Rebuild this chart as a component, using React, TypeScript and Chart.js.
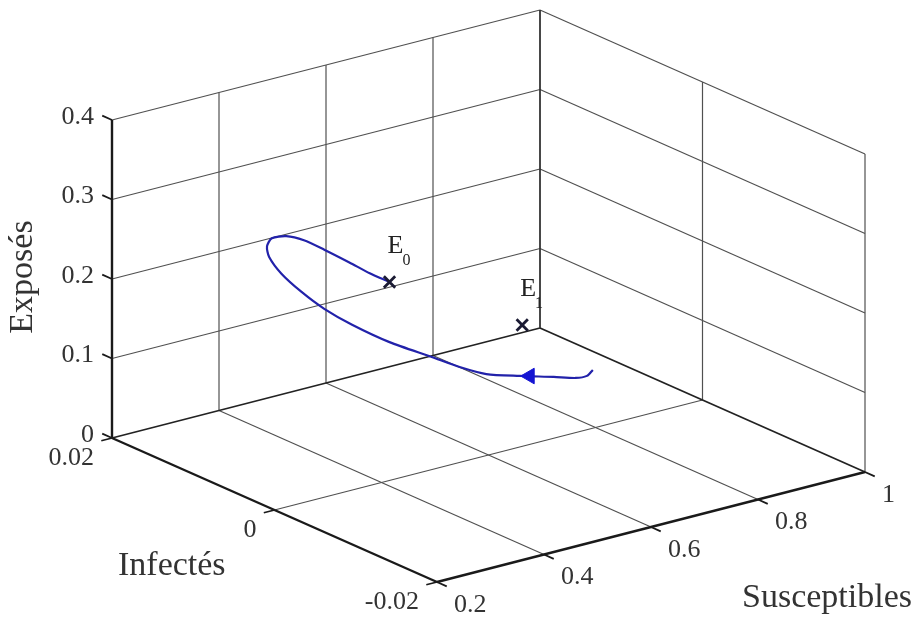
import React, { useEffect, useRef } from "react";
import { Chart, registerables } from "chart.js";

Chart.register(...registerables);

// ---- axis ticks (data space) ----
const S_TICKS = [0.2, 0.4, 0.6, 0.8, 1];
const I_TICKS = [-0.02, 0, 0.02];
const E_TICKS = [0, 0.1, 0.2, 0.3, 0.4];
const S_TICK_LABELS = ["0.2", "0.4", "0.6", "0.8", "1"];
const I_TICK_LABELS = ["-0.02", "0", "0.02"];
const E_TICK_LABELS = ["0", "0.1", "0.2", "0.3", "0.4"];

// ---- trajectory (Susceptibles, Infectés, Exposés) ----
const trajS = [0.795, 0.784, 0.763, 0.722, 0.658, 0.596, 0.546, 0.494, 0.415, 0.345, 0.293, 0.25, 0.213, 0.19, 0.186, 0.195, 0.222, 0.255, 0.293, 0.34, 0.378, 0.415];
const trajI = [0, 0, 0, 0, 0, 0, 0, 0, 0, 0, 0, 0, 0, 0, 0, 0, 0, 0, 0, 0, 0, 0];
const trajE = [0.0733, 0.0677, 0.0687, 0.0771, 0.0894, 0.1025, 0.12, 0.1416, 0.174, 0.208, 0.237, 0.266, 0.295, 0.32, 0.334, 0.3426, 0.3406, 0.3298, 0.3114, 0.2872, 0.267, 0.2496];

// arrow on the trajectory
const arrowS = [0.677];
const arrowI = [0];
const arrowE = [0.086];

// equilibrium points
const eqNames = ["E0", "E1"];
const eqS = [0.415, 0.663];
const eqI = [0, 0];
const eqE = [0.2496, 0.1526];

// ---- layout of the projected box (screen units of the hidden scales) ----
const ORIGIN = { x: 437, y: 582 }; // S min, I min, E min corner
const VS = { x: 428, y: -110 };
const VI = { x: -325, y: -144 };
const VE = { x: 0, y: -318 };

const S_MIN = S_TICKS[0], S_MAX = S_TICKS[S_TICKS.length - 1];
const I_MIN = I_TICKS[0], I_MAX = I_TICKS[I_TICKS.length - 1];
const E_MIN = E_TICKS[0], E_MAX = E_TICKS[E_TICKS.length - 1];

function proj(S: number, I: number, E: number) {
  const s = (S - S_MIN) / (S_MAX - S_MIN);
  const i = (I - I_MIN) / (I_MAX - I_MIN);
  const e = (E - E_MIN) / (E_MAX - E_MIN);
  return {
    x: ORIGIN.x + s * VS.x + i * VI.x + e * VE.x,
    y: ORIGIN.y + s * VS.y + i * VI.y + e * VE.y,
  };
}

type P3 = [number, number, number];

function seg(a: P3, b: P3, color: string, width: number, order: number) {
  return {
    data: [proj(a[0], a[1], a[2]), proj(b[0], b[1], b[2])],
    showLine: true,
    borderColor: color,
    backgroundColor: color,
    borderWidth: width,
    pointRadius: 0,
    tension: 0,
    clip: false as any,
    order,
  };
}

const GRID = "#505050";
const AXIS = "#1a1a1a";
const TXT = "#333333";
const TICK_FONT = "26px 'Liberation Serif', serif";
const TITLE_FONT = "34px 'Liberation Serif', serif";

export default function App() {
  const ref = useRef<HTMLCanvasElement>(null);

  useEffect(() => {
    document.body.style.margin = "0";
    const canvas = ref.current!;
    const datasets: any[] = [];

    // floor grid
    for (const s of S_TICKS.slice(1, -1)) datasets.push(seg([s, I_MIN, E_MIN], [s, I_MAX, E_MIN], GRID, 1.2, 10));
    for (const i of I_TICKS.slice(1, -1)) datasets.push(seg([S_MIN, i, E_MIN], [S_MAX, i, E_MIN], GRID, 1.2, 10));
    // back wall (I = max)
    for (const s of S_TICKS.slice(1, -1)) datasets.push(seg([s, I_MAX, E_MIN], [s, I_MAX, E_MAX], GRID, 1.2, 10));
    for (const e of E_TICKS.slice(1)) datasets.push(seg([S_MIN, I_MAX, e], [S_MAX, I_MAX, e], GRID, 1.2, 10));
    // right wall (S = max)
    for (const i of I_TICKS.slice(0, -1)) datasets.push(seg([S_MAX, i, E_MIN], [S_MAX, i, E_MAX], GRID, 1.2, 10));
    for (const e of E_TICKS.slice(1)) datasets.push(seg([S_MAX, I_MAX, e], [S_MAX, I_MIN, e], GRID, 1.2, 10));
    // box edges
    datasets.push(seg([S_MAX, I_MAX, E_MIN], [S_MAX, I_MAX, E_MAX], "#333", 1.8, 8));
    datasets.push(seg([S_MIN, I_MAX, E_MIN], [S_MAX, I_MAX, E_MIN], "#222", 1.8, 8));
    datasets.push(seg([S_MAX, I_MAX, E_MIN], [S_MAX, I_MIN, E_MIN], "#222", 1.8, 8));
    // main axes
    datasets.push(seg([S_MIN, I_MAX, E_MIN], [S_MIN, I_MAX, E_MAX], AXIS, 2.4, 6));
    datasets.push(seg([S_MIN, I_MIN, E_MIN], [S_MIN, I_MAX, E_MIN], AXIS, 2.4, 6));
    datasets.push(seg([S_MIN, I_MIN, E_MIN], [S_MAX, I_MIN, E_MIN], AXIS, 2.4, 6));
    // tick marks
    for (const e of E_TICKS) datasets.push(seg([S_MIN, I_MAX, e], [S_MIN, I_MAX + 0.0012, e], AXIS, 1.8, 6));
    for (const i of I_TICKS) datasets.push(seg([S_MIN, i, E_MIN], [S_MIN - 0.02, i, E_MIN], AXIS, 1.8, 6));
    for (const s of S_TICKS) datasets.push(seg([s, I_MIN, E_MIN], [s, I_MIN - 0.0012, E_MIN], AXIS, 1.8, 6));

    // trajectory
    datasets.push({
      data: trajS.map((s, k) => proj(s, trajI[k], trajE[k])),
      showLine: true,
      borderColor: "rgb(34,34,170)",
      borderWidth: 2.2,
      pointRadius: 0,
      tension: 0.25,
      clip: false,
      order: 2,
    });
    // arrow head
    datasets.push({
      data: arrowS.map((s, k) => proj(s, arrowI[k], arrowE[k])),
      showLine: false,
      pointStyle: "triangle",
      rotation: -90,
      pointRadius: 9,
      backgroundColor: "rgb(20,20,210)",
      borderColor: "rgb(20,20,210)",
      borderWidth: 1,
      clip: false,
      order: 1,
    });
    // equilibria
    datasets.push({
      data: eqS.map((s, k) => proj(s, eqI[k], eqE[k])),
      showLine: false,
      pointStyle: "crossRot",
      pointRadius: 8,
      borderColor: "#1a1a33",
      borderWidth: 2.8,
      clip: false,
      order: 0,
    });

    const textPlugin = {
      id: "texts",
      afterDatasetsDraw(chart: any) {
        const ctx = chart.ctx as CanvasRenderingContext2D;
        const xs = chart.scales.x, ys = chart.scales.y;
        const px = (p: { x: number; y: number }) => ({ x: xs.getPixelForValue(p.x), y: ys.getPixelForValue(p.y) });
        ctx.save();
        ctx.fillStyle = TXT;
        ctx.font = TICK_FONT;
        ctx.textBaseline = "middle";
        ctx.textAlign = "right";
        E_TICKS.forEach((e, k) => {
          const p = px(proj(S_MIN, I_MAX, e));
          ctx.fillText(E_TICK_LABELS[k], p.x - 18, p.y - 3);
        });
        I_TICKS.forEach((i, k) => {
          const p = px(proj(S_MIN, i, E_MIN));
          ctx.fillText(I_TICK_LABELS[k], p.x - 18, p.y + 20);
        });
        ctx.textAlign = "left";
        S_TICKS.forEach((s, k) => {
          const p = px(proj(s, I_MIN, E_MIN));
          ctx.fillText(S_TICK_LABELS[k], p.x + 17, p.y + 23);
        });

        // equilibrium labels
        ctx.fillStyle = "#222";
        ctx.textBaseline = "alphabetic";
        eqNames.forEach((n, k) => {
          const p = px(proj(eqS[k], eqI[k], eqE[k]));
          ctx.font = "26px 'Liberation Serif', serif";
          ctx.textAlign = "left";
          const bx = p.x - 2, by = p.y - 29;
          ctx.fillText("E", bx, by);
          const w = ctx.measureText("E").width;
          ctx.font = "16px 'Liberation Serif', serif";
          ctx.fillText(n.slice(1), bx + w - 1, by + 12);
        });

        // axis titles
        ctx.fillStyle = TXT;
        ctx.font = TITLE_FONT;
        ctx.textAlign = "left";
        ctx.textBaseline = "alphabetic";
        ctx.fillText("Susceptibles", 742, 607);
        ctx.fillText("Infectés", 118, 575);
        ctx.translate(32, 277);
        ctx.rotate(-Math.PI / 2);
        ctx.textAlign = "center";
        ctx.fillText("Exposés", 0, 0);
        ctx.restore();
      },
    };

    const chart = new Chart(canvas, {
      type: "scatter",
      data: { datasets },
      options: {
        animation: false,
        responsive: false,
        maintainAspectRatio: false,
        layout: { padding: 0, autoPadding: false },
        plugins: { legend: { display: false }, tooltip: { enabled: false } },
        scales: {
          x: { type: "linear", min: 0, max: 914, display: false },
          y: { type: "linear", min: 0, max: 619, reverse: true, display: false },
        },
      },
      plugins: [textPlugin],
    });
    return () => chart.destroy();
  }, []);

  return (
    <div style={{ width: 914, height: 619, background: "#fff" }}>
      <canvas ref={ref} width={914} height={619} style={{ display: "block" }} />
    </div>
  );
}
